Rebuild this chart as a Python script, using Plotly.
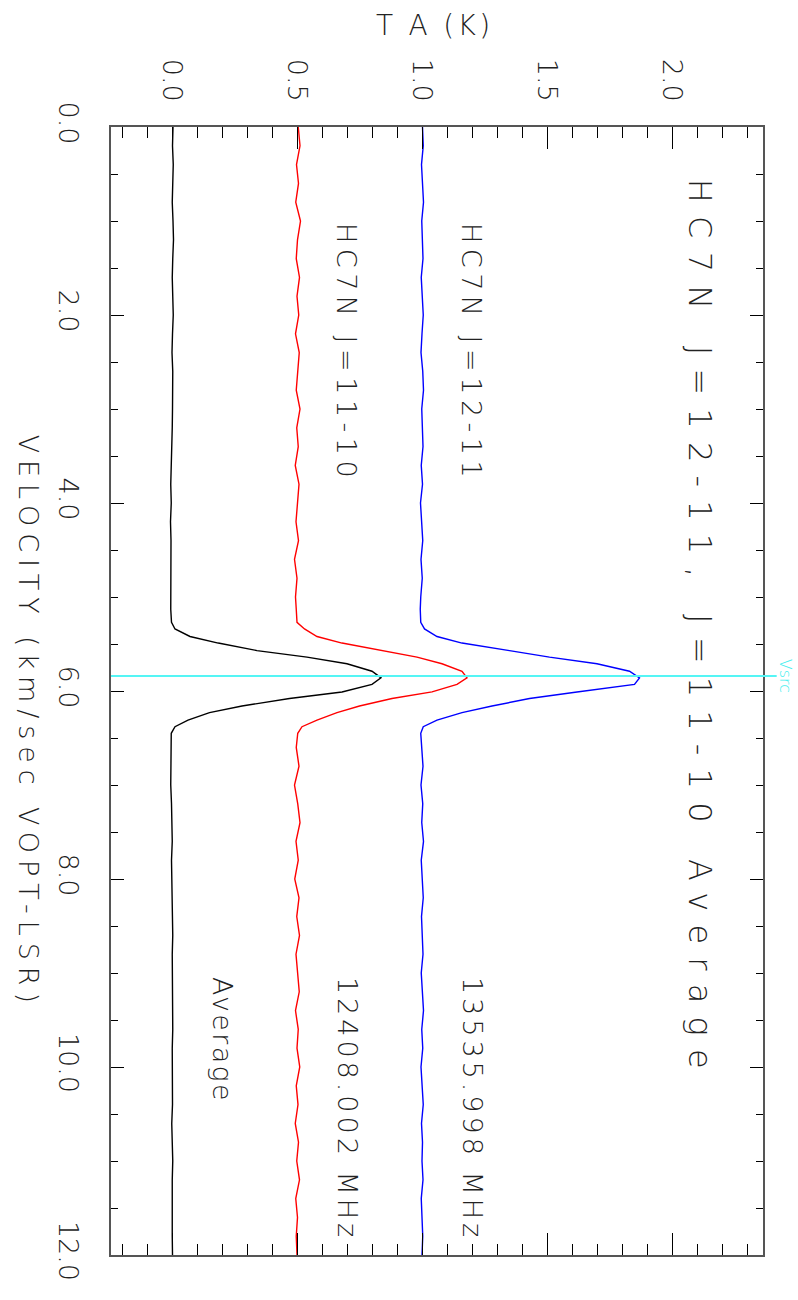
import plotly.graph_objects as go

# ---------------- data ----------------
velocity = [0.0, 0.2, 0.4, 0.6, 0.8, 1.0, 1.2, 1.4, 1.6, 1.8, 2.0, 2.2, 2.4, 2.6, 2.8,
            3.0, 3.2, 3.4, 3.6, 3.8, 4.0, 4.2, 4.4, 4.6, 4.8, 5.0, 5.13,
            5.27, 5.34, 5.42, 5.49, 5.57, 5.64, 5.71, 5.79, 5.86, 5.93, 6.01, 6.08,
            6.16, 6.23, 6.31, 6.38, 6.45,
            6.6, 6.8, 7.0, 7.2, 7.4, 7.6, 7.8, 8.0, 8.2, 8.4, 8.6, 8.8, 9.0, 9.2,
            9.4, 9.6, 9.8, 10.0, 10.2, 10.4, 10.6, 10.8, 11.0, 11.2, 11.4, 11.6, 11.8, 12.0]

t_average = [0.004, 0.002, 0.005, 0.003, 0.001, 0.004, 0.006, 0.003, 0.001, 0.003, 0.005, 0.002,
             0.000, 0.003, 0.004, 0.002, 0.001, -0.002, -0.003, -0.005, -0.003, -0.006, -0.004,
             -0.005, -0.006, -0.004, -0.005,
             -0.002, 0.012, 0.072, 0.185, 0.34, 0.54, 0.70, 0.80, 0.836, 0.80, 0.68, 0.47,
             0.28, 0.15, 0.064, 0.012, -0.003,
             -0.004, -0.003, -0.005, -0.002, -0.001, 0.001, -0.002, 0.000, 0.002, 0.001, 0.003,
             0.001, 0.002, 0.004, 0.002, 0.003, 0.001, 0.002, 0.000, 0.002, -0.001, 0.001,
             0.003, 0.001, 0.000, 0.002, 0.001, 0.002]

t_j11_10 = [0.505, 0.512, 0.498, 0.506, 0.495, 0.514, 0.502, 0.497, 0.510, 0.500, 0.507, 0.494,
            0.509, 0.503, 0.497, 0.512, 0.499, 0.505, 0.493, 0.508, 0.501, 0.496, 0.506, 0.490,
            0.500, 0.494, 0.497,
            0.500, 0.53, 0.58, 0.68, 0.84, 0.98, 1.08, 1.16, 1.18, 1.14, 1.04, 0.88,
            0.75, 0.66, 0.58, 0.52, 0.503,
            0.497, 0.508, 0.490, 0.503, 0.512, 0.496, 0.505, 0.491, 0.508, 0.499, 0.510, 0.496,
            0.503, 0.509, 0.494, 0.505, 0.500, 0.511, 0.497, 0.504, 0.493, 0.506, 0.499, 0.510,
            0.495, 0.502, 0.497, 0.500]

t_j12_11 = [1.002, 1.005, 0.998, 1.003, 1.006, 0.999, 1.002, 1.004, 0.997, 1.001, 1.005, 1.000,
            0.996, 1.003, 1.006, 0.999, 1.001, 1.004, 0.997, 1.002, 0.994, 1.000, 1.003, 0.996,
            1.001, 0.995, 0.993,
            0.995, 1.01, 1.06, 1.16, 1.35, 1.51, 1.70, 1.83, 1.87, 1.85, 1.62, 1.43,
            1.28, 1.16, 1.06, 1.005, 0.995,
            0.998, 1.004, 0.996, 1.003, 0.999, 1.006, 0.997, 1.002, 1.005, 0.998, 1.001, 1.004,
            0.997, 1.002, 1.006, 0.999, 1.003, 0.996, 1.001, 1.005, 0.998, 1.002, 1.000, 1.004,
            0.997, 1.001, 1.003, 1.000]

v_src = 5.84
ta_ticks = [0.0, 0.5, 1.0, 1.5, 2.0]
vel_ticks = [0, 2, 4, 6, 8, 10, 12]

# ---------------- figure ----------------
FONT = "DejaVu Sans"
TXT = "#222222"
WEIGHT = 200

fig = go.Figure()
for vals, color in [(t_average, "black"), (t_j11_10, "#ff0000"), (t_j12_11, "#0000ff")]:
    fig.add_trace(go.Scatter(x=vals, y=velocity, mode="lines",
                             line=dict(color=color, width=1.4),
                             showlegend=False, hoverinfo="skip"))

fig.add_shape(type="line", xref="paper", yref="y", x0=0, x1=1.021, y0=v_src, y1=v_src,
              line=dict(color="#55f5f5", width=2), layer="above")


def spaced(text, px):
    return f'<span style="letter-spacing:{px}px">{text}</span>'


annotations = [
    dict(text=spaced("HC7N J=12-11, J=11-10 Average", 13.2), x=2.11, y=0.53, xref="x", yref="y",
         xanchor="center", yanchor="top", textangle=90, font=dict(size=32)),
    dict(text=spaced("HC7N J=12-11", 5.5), x=1.2, y=1.0, xref="x", yref="y",
         xanchor="center", yanchor="top", textangle=90, font=dict(size=27)),
    dict(text=spaced("HC7N J=11-10", 5.5), x=0.70, y=1.0, xref="x", yref="y",
         xanchor="center", yanchor="top", textangle=90, font=dict(size=27)),
    dict(text=spaced("13535.998 MHz", 4.0), x=1.2, y=9.02, xref="x", yref="y",
         xanchor="center", yanchor="top", textangle=90, font=dict(size=27)),
    dict(text=spaced("12408.002 MHz", 4.0), x=0.70, y=9.02, xref="x", yref="y",
         xanchor="center", yanchor="top", textangle=90, font=dict(size=27)),
    dict(text=spaced("Average", 2.3), x=0.2, y=9.02, xref="x", yref="y",
         xanchor="center", yanchor="top", textangle=90, font=dict(size=27)),
    dict(text="Vsrc", x=1.034, y=v_src, xref="paper", yref="y",
         xanchor="center", yanchor="middle", textangle=90,
         font=dict(size=16, color="#44eeee")),
    dict(text=spaced("VELOCITY (km/sec VOPT-LSR)", 6.9), x=-0.126, y=0.472,
         xref="paper", yref="paper", xanchor="center", yanchor="middle", textangle=90,
         font=dict(size=27)),
    dict(text=spaced("T A (K)", 3.3), x=0.496, y=1.090, xref="paper", yref="paper",
         xanchor="center", yanchor="middle", font=dict(size=28)),
]
for a in annotations:
    a["showarrow"] = False
    a["font"].setdefault("color", TXT)
    a["font"]["family"] = FONT
    a["font"]["weight"] = WEIGHT
fig.update_layout(annotations=annotations)

fig.update_layout(
    width=798, height=1300,
    margin=dict(l=111, r=35, t=127, b=45),
    paper_bgcolor="white", plot_bgcolor="white",
    font=dict(family=FONT, color=TXT, weight=WEIGHT),
    xaxis=dict(
        side="top", range=[-0.244, 2.364], tickvals=ta_ticks, tickformat=".1f",
        tickangle=90, tickfont=dict(size=27, color=TXT, weight=WEIGHT), ticklabelstandoff=14,
        ticks="inside", ticklen=22, tickcolor="black", tickwidth=1,
        minor=dict(dtick=0.1, tick0=0, ticks="inside", ticklen=11, tickcolor="black", tickwidth=1),
        showline=True, linecolor="#555555", linewidth=1.5, mirror="ticks",
        showgrid=False, zeroline=False,
    ),
    yaxis=dict(
        range=[12, 0], tickvals=vel_ticks, tickformat=".1f",
        tickangle=90, tickfont=dict(size=27, color=TXT, weight=WEIGHT), ticklabelstandoff=18,
        ticks="inside", ticklen=13, tickcolor="black", tickwidth=1,
        minor=dict(dtick=0.5, tick0=0, ticks="inside", ticklen=7, tickcolor="black", tickwidth=1),
        showline=True, linecolor="#555555", linewidth=1.5, mirror="ticks",
        showgrid=False, zeroline=False,
    ),
)

fig.write_html("out.html")
